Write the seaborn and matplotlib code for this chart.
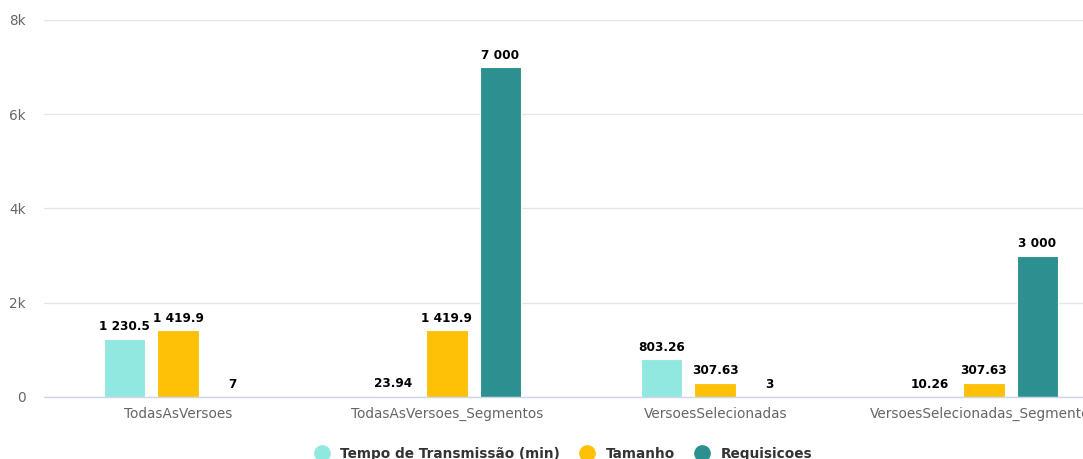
import pandas as pd
import numpy as np
import matplotlib
matplotlib.use("Agg")
import matplotlib.pyplot as plt
import seaborn as sns
from matplotlib.lines import Line2D

# ---- data ----
categorias = ["TodasAsVersoes", "TodasAsVersoes_Segmentos",
              "VersoesSelecionadas", "VersoesSelecionadas_Segmentos"]
series = ["Tempo de Transmissão (min)", "Tamanho", "Requisicoes"]
tempo = [1230.5, 23.94, 803.26, 10.26]
tamanho = [1419.9, 1419.9, 307.63, 307.63]
requisicoes = [7, 7000, 3, 3000]
cores = ["#91e8e1", "#ffc107", "#2b908f"]

df = pd.DataFrame({
    "categoria": categorias * 3,
    "serie": [series[0]] * 4 + [series[1]] * 4 + [series[2]] * 4,
    "valor": tempo + tamanho + requisicoes,
})

sns.set_style("white")
plt.rcParams["font.family"] = ["DejaVu Sans"]

fig = plt.figure(figsize=(10.83, 4.59), dpi=100)
# axis runs past the right edge like the original (last label is cut off)
ax = fig.add_axes([44 / 1083, 1 - 397 / 459, 1074 / 1083, 377 / 459])

sns.barplot(data=df, x="categoria", y="valor", hue="serie",
            palette=cores, saturation=1, width=0.6, gap=0.22, ax=ax,
            edgecolor="white", linewidth=0.8, legend=False)


def fmt(v):
    s = f"{v:,.2f}".rstrip("0").rstrip(".")
    return s.replace(",", " ")


for cont in ax.containers:
    ax.bar_label(cont, labels=[fmt(b.get_height()) for b in cont],
                 padding=4, fontsize=8.7, fontweight="bold", color="#000000")

ax.set_ylim(0, 8000)
ax.set_xlim(-0.5, 3.5)
ax.set_yticks([0, 2000, 4000, 6000, 8000])
ax.set_yticklabels(["0", "2k", "4k", "6k", "8k"])
ax.yaxis.grid(True, color="#e6e6e6", linewidth=1)
ax.set_axisbelow(True)
ax.set_xlabel("")
ax.set_ylabel("")

for s in ["top", "right", "left"]:
    ax.spines[s].set_visible(False)
ax.spines["bottom"].set_color("#ccd6eb")
ax.spines["bottom"].set_linewidth(1)

ax.tick_params(axis="y", length=0, pad=13, labelsize=9.8, labelcolor="#666666")
ax.tick_params(axis="x", which="major", length=0, pad=7, labelsize=9.8,
               labelcolor="#666666")
ax.set_xticks([-0.5, 0.5, 1.5, 2.5, 3.5], minor=True)
ax.tick_params(axis="x", which="minor", length=10, width=1, color="#ccd6eb")

handles = [Line2D([0], [0], marker="o", linestyle="", markersize=11,
                  markerfacecolor=c, markeredgecolor=c) for c in cores]
leg = fig.legend(handles, series, loc="center", ncol=3,
                 bbox_to_anchor=(560 / 1083, 1 - 454 / 459), frameon=False,
                 prop={"weight": "bold", "size": 9.8}, handletextpad=0.35,
                 columnspacing=1.0)
for t in leg.get_texts():
    t.set_color("#333333")

fig.savefig("out.png", dpi=100)
